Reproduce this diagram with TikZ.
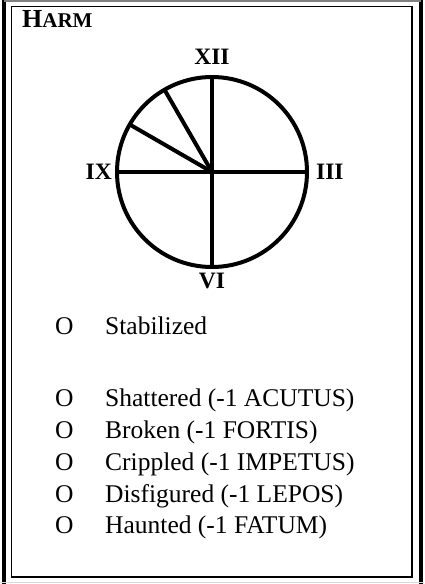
\documentclass[tikz,border=0pt]{standalone}
\usepackage{fontspec}
\setmainfont{Liberation Serif}
\usetikzlibrary{positioning}

\begin{document}
\begin{tikzpicture}[
    x=1pt, y=-1pt,
    frame/.style={draw=black, line width=1.8pt},
    hour/.style={font=\fontsize{23.5}{26}\selectfont\bfseries, inner sep=0pt},
    spoke/.style={line width=4pt},
    box/.style={font=\fontsize{25.5}{28}\selectfont, inner sep=0pt, anchor=base west},
    title/.style={font=\fontsize{26}{28}\selectfont\bfseries, inner sep=0pt, anchor=base west}
]
\useasboundingbox (0,0) rectangle (424,584);

% outer and inner frame
\draw[line width=4pt] (4,0) -- (4,584);
\draw[line width=4pt] (421,0) -- (421,584);
\draw[gray, line width=1.5pt] (4,0.75) -- (421,0.75);
\draw[black!15, line width=1.5pt] (0,582.5) -- (424,582.5);
\draw[frame] (11.5,6.5) rectangle (412,577);

\node[title] (harm) at (22,27) {H\fontsize{21}{22}\selectfont ARM};

% dial
\node[circle, draw, line width=4pt, minimum size=190pt, inner sep=0pt, outer sep=0pt] (dial) at (212,172) {};
\draw[spoke] (dial.north) -- (dial.south);
\draw[spoke] (dial.west) -- (dial.east);
\draw[spoke] (dial.center) -- (dial.120);
\draw[spoke] (dial.center) -- (dial.150);

\node[hour, above=12pt of dial] (xii) {XII};
\node[hour, right=9pt of dial] (iii) {III};
\node[hour, below=6pt of dial] (vi) {VI};
\node[hour, left=5pt of dial] (ix) {IX};

% harm track
\node[box] (o1) at (55,334) {O};
\node[box] (stabilized) at (105,334) {Stabilized};
\node[box] (o2) at (55,406) {O};
\node[box] (shattered) at (105,406) {Shattered (-1 ACUTUS)};
\node[box] (o3) at (55,438) {O};
\node[box] (broken) at (105,438) {Broken (-1 FORTIS)};
\node[box] (o4) at (55,470) {O};
\node[box] (crippled) at (105,470) {Crippled (-1 IMPETUS)};
\node[box] (o5) at (55,502) {O};
\node[box] (disfigured) at (105,502) {Disfigured (-1 LEPOS)};
\node[box] (o6) at (55,533) {O};
\node[box] (haunted) at (105,533) {Haunted (-1 FATUM)};

\end{tikzpicture}
\end{document}
